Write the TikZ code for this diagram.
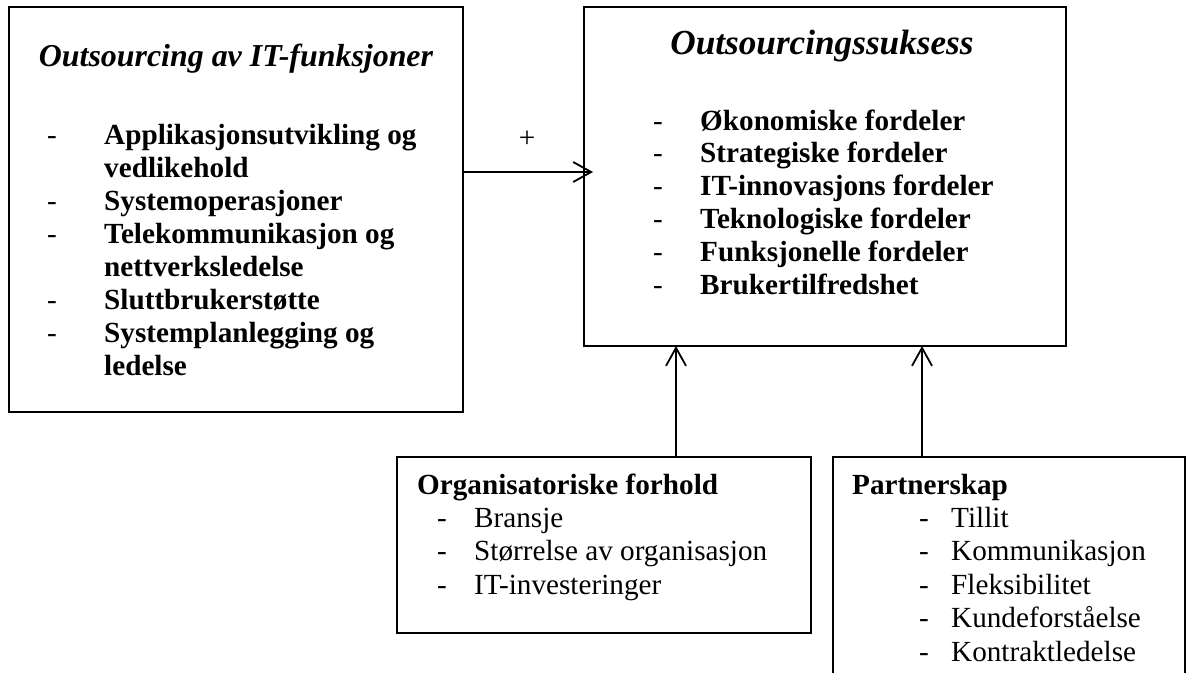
\documentclass[tikz,border=0pt]{standalone}
\usepackage{fontspec}
\setmainfont{Liberation Serif}
\usetikzlibrary{arrows.meta}
\begin{document}
\begin{tikzpicture}[x=1pt,y=-1pt,
  frame/.style={draw=black, line width=1.3pt, inner sep=0pt, outer sep=0pt, anchor=north west},
  conn/.style={draw=black, line width=1.8pt,
    -{Straight Barb[length=18pt,width=20pt,line width=1.8pt]}},
  body/.style={anchor=base west, inner sep=0pt, font=\fontsize{29.2}{33}\selectfont},
  bodyb/.style={body, font=\fontsize{29.2}{33}\selectfont\bfseries},
  heading/.style={anchor=base, inner sep=0pt}]

\useasboundingbox (0,0) rectangle (1190,672);
\clip (0,0) rectangle (1190,672);

% boxes
\node[frame, minimum width=454pt, minimum height=405pt] (L) at (9,7) {};
\node[frame, minimum width=482pt, minimum height=339pt] (R) at (584,7) {};
\node[frame, minimum width=414pt, minimum height=176pt] (O) at (397,457) {};
\node[frame, minimum width=352pt, minimum height=260pt] (P) at (833,457) {};

% left box: outsourced IT functions
\node[heading, font=\fontsize{31.9}{37}\selectfont\bfseries\itshape] (Lt) at (236,66) {Outsourcing av IT-funksjoner};
\foreach \d/\t [count=\i] in {1/Applikasjonsutvikling og, 0/vedlikehold,
    1/Systemoperasjoner, 1/Telekommunikasjon og, 0/nettverksledelse,
    1/Sluttbrukerstøtte, 1/Systemplanlegging og, 0/ledelse}{
  \node[bodyb] (la\i) at (104,{144+33*(\i-1)}) {\t};
  \ifnum\d=1 \node[body] (ld\i) at (47,{144+33*(\i-1)}) {-};\fi
}

% right box: outsourcing success
\node[heading, font=\fontsize{35.2}{41}\selectfont\bfseries\itshape] (Rt) at (822,54) {Outsourcingssuksess};
\foreach \t [count=\i] in {Økonomiske fordeler, Strategiske fordeler,
    IT-innovasjons fordeler, Teknologiske fordeler, Funksjonelle fordeler,
    Brukertilfredshet}{
  \node[bodyb] (ra\i) at (700,{130+32.8*(\i-1)}) {\t};
  \node[body] (rd\i) at (653,{130+32.8*(\i-1)}) {-};
}

% organisational conditions
\node[bodyb] (Ot) at (417,494) {Organisatoriske forhold};
\foreach \t [count=\i] in {Bransje, Størrelse av organisasjon, IT-investeringer}{
  \node[body] (oa\i) at (474,{527+33.5*(\i-1)}) {\t};
  \node[body] (od\i) at (437,{527+33.5*(\i-1)}) {-};
}

% partnership
\node[bodyb] (Pt) at (852,494) {Partnerskap};
\foreach \t [count=\i] in {Tillit, Kommunikasjon, Fleksibilitet, Kundeforståelse, Kontraktledelse}{
  \node[body] (pa\i) at (951,{527+33.5*(\i-1)}) {\t};
  \node[body] (pd\i) at (919,{527+33.5*(\i-1)}) {-};
}

% connectors
\coordinate (hy) at (0,172);
\coordinate (vx1) at (676,0);
\coordinate (vx2) at (922,0);
\draw[conn] (L.east |- hy) -- ([xshift=9pt]R.west |- hy);
\node[inner sep=0pt, font=\fontsize{29.2}{33}\selectfont] (plus) at (527,139) {+};
\draw[conn] (O.north -| vx1) -- (R.south -| vx1);
\draw[conn] (P.north -| vx2) -- (R.south -| vx2);
\end{tikzpicture}
\end{document}
